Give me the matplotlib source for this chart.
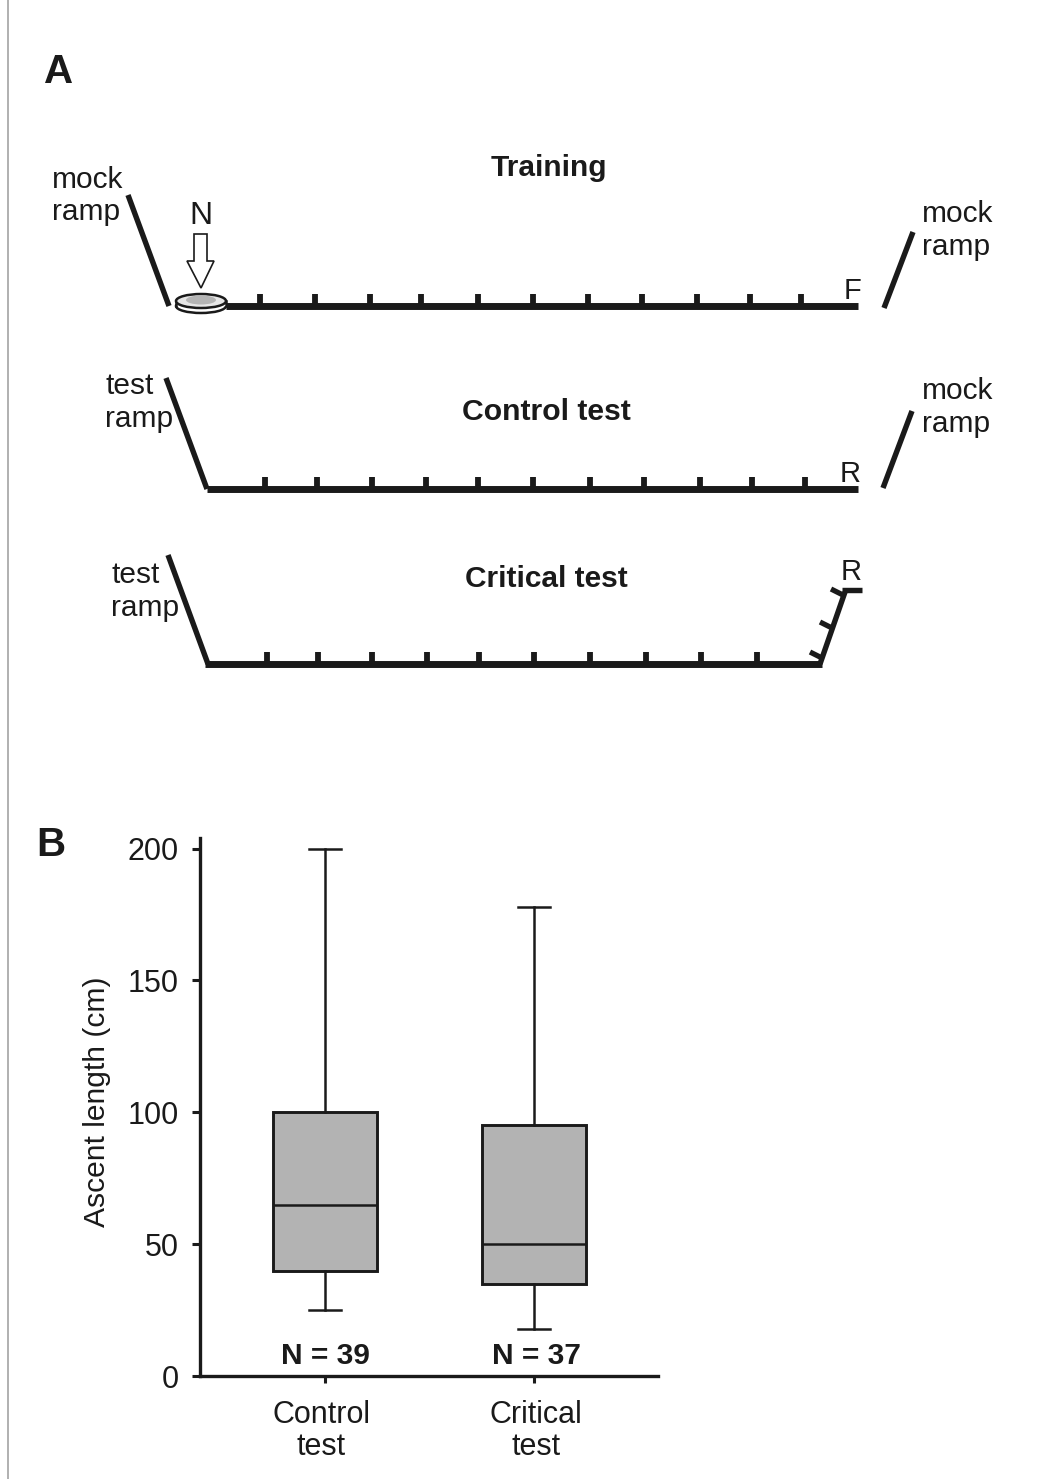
# Import libraries
import matplotlib.pyplot as plt
from matplotlib.patches import Ellipse, Polygon, Rectangle
from matplotlib.transforms import ScaledTranslation

plt.rcParams['font.family'] = ['Liberation Sans', 'DejaVu Sans']

W, H = 1056, 1479
INK = '#1a1a1a'

# Box plot values (cm)
groups = ['Control\ntest', 'Critical\ntest']
whisker_low = [25, 18]
q1 = [40, 35]
median = [65, 50]
q3 = [100, 95]
whisker_high = [200, 178]
counts = ['N = 39', 'N = 37']
yticks = [0, 50, 100, 150, 200]

# Sketch in panel A, in picture pixels
floors = [(226, 306, 858), (207, 489, 858), (205, 664, 822)]
training_ticks = [260, 315, 370, 421, 478, 533, 588, 642, 697, 750, 801]
control_ticks = [265, 317, 372, 426, 478, 533, 590, 644, 700, 752, 805]
critical_ticks = [267, 318, 372, 427, 479, 534, 590, 646, 701, 757]
ramps = [((128, 195), (169, 306)), ((913, 232), (884, 308)),
         ((166, 378), (207, 489)), ((912, 411), (883, 488)),
         ((168, 555), (208, 664)), ((820, 664), (845, 592)),
         ((842, 590), (862, 590))]
ramp_ticks = [((810, 652), (822, 658)), ((820, 622), (832, 628)),
              ((831, 589), (843, 595))]
arrow_outline = [(194, 234), (207, 234), (207, 261), (214, 261), (201, 288),
                 (187, 261), (194, 261)]

fig = plt.figure(figsize=(W / 100, H / 100), dpi=100, facecolor='white')

# Overlay axes in pixel coordinates for the sketch
sk = fig.add_axes([0, 0, 1, 1])
sk.set_xlim(0, W)
sk.set_ylim(H, 0)
sk.axis('off')

# Grey page edge
sk.plot([8, 8], [0, H], color='#b0b0b0', lw=1.4)

for x0, y, x1 in floors:
    sk.plot([x0, x1], [y, y], color=INK, lw=5, solid_capstyle='butt')
for xs, y in [(training_ticks, 306), (control_ticks, 489), (critical_ticks, 664)]:
    for x in xs:
        sk.plot([x, x], [y, y - 12], color=INK, lw=4.2, solid_capstyle='butt')
for a, b in ramps:
    sk.plot([a[0], b[0]], [a[1], b[1]], color=INK, lw=3.9, solid_capstyle='butt')
for a, b in ramp_ticks:
    sk.plot([a[0], b[0]], [a[1], b[1]], color=INK, lw=3.8, solid_capstyle='butt')

# Dish with the nest at the start of the training channel
sk.add_patch(Ellipse((201, 306), 50, 14, fc='white', ec=INK, lw=1.8, zorder=3))
sk.add_patch(Rectangle((176, 301), 50, 5, fc='white', ec='none', zorder=3.5))
sk.plot([176, 176], [301, 306], color=INK, lw=1.8, zorder=3.6)
sk.plot([226, 226], [301, 306], color=INK, lw=1.8, zorder=3.6)
sk.add_patch(Ellipse((201, 301), 50, 14, fc='#e6e6e6', ec=INK, lw=1.8, zorder=4))
sk.add_patch(Ellipse((201, 300), 30, 9, fc='#b4b4b4', ec='none', zorder=5))
sk.add_patch(Polygon(arrow_outline, closed=True, fc='white', ec=INK, lw=1.2, zorder=6))

# Sketch labels
def label(x, y, s, size=21.5, weight='normal', ha='left'):
    sk.text(x, y + 2, s, fontsize=size, fontweight=weight, color=INK, ha=ha, va='center')

label(44, 70, 'A', 29, 'bold')
label(36, 843, 'B', 29, 'bold')
label(549, 166, 'Training', 21.5, 'bold', 'center')
label(546, 410, 'Control test', 21.7, 'bold', 'center')
label(546, 577, 'Critical test', 21.5, 'bold', 'center')
label(52, 178, 'mock')
label(52, 210, 'ramp')
label(922, 212, 'mock')
label(922, 245, 'ramp')
label(922, 389, 'mock')
label(922, 422, 'ramp')
label(105, 384, 'test')
label(105, 417, 'ramp')
label(111, 573, 'test')
label(111, 606, 'ramp')
label(201, 214, 'N', 23, 'normal', 'center')
label(853, 289, 'F', 21, 'normal', 'center')
label(850, 472, 'R', 21, 'normal', 'center')
label(851, 570, 'R', 21, 'normal', 'center')

# Box plot, panel B
ax = fig.add_axes([200 / W, 1 - 1376 / H, 458 / W, (1376 - 838) / H])
ax.patch.set_alpha(0)
stats = []
for i in range(len(groups)):
    stats.append({'whislo': whisker_low[i], 'q1': q1[i], 'med': median[i],
                  'q3': q3[i], 'whishi': whisker_high[i], 'fliers': []})
line = dict(color=INK, lw=1.8)
ax.bxp(stats, positions=[1, 2], widths=0.5, patch_artist=True, showfliers=False,
       boxprops=dict(facecolor='#b3b3b3', edgecolor=INK, lw=2.1),
       medianprops=line, whiskerprops=line, capprops=line, capwidths=0.15)

ax.set_xlim(0.402, 2.593)
ax.set_ylim(0, 204)
ax.set_yticks(yticks)
ax.set_xticks([1, 2])
ax.set_xticklabels(groups, linespacing=1.12)
ax.tick_params(axis='y', labelsize=22, length=6, width=2.2, pad=9.5, colors=INK)
ax.tick_params(axis='x', labelsize=22, length=5, width=2.2, pad=12, colors=INK)
ax.set_ylabel('Ascent length (cm)', fontsize=21.6, color=INK)
ax.yaxis.set_label_coords(-0.195, 0.509)
ax.spines['top'].set_visible(False)
ax.spines['right'].set_visible(False)
ax.spines['left'].set_linewidth(2.4)
ax.spines['bottom'].set_linewidth(2.4)
ax.spines['left'].set_color(INK)
ax.spines['bottom'].set_color(INK)

# The category labels sit slightly off their ticks in the reference
for lab, dx in zip(ax.get_xticklabels(), [-4, 2]):
    lab.set_transform(lab.get_transform() + ScaledTranslation(dx / 100, 0, fig.dpi_scale_trans))

for i, s in enumerate(counts):
    ax.text(i + 1 + i * 0.014, 7.5, s, fontsize=21.5, fontweight='bold', color=INK,
            ha='center', va='center')

fig.savefig('out.png', dpi=100)
